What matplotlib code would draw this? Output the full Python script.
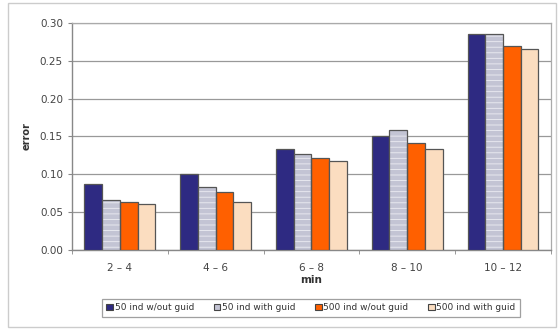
import matplotlib.pyplot as plt
from matplotlib.patches import Rectangle, Patch
import numpy as np

# Data
categories = ['2 – 4', '4 – 6', '6 – 8', '8 – 10', '10 – 12']
series_names = ['50 ind w/out guid', '50 ind with guid', '500 ind w/out guid', '500 ind with guid']
ind50_wout = [0.087, 0.100, 0.133, 0.151, 0.285]
ind50_with = [0.066, 0.083, 0.127, 0.159, 0.285]
ind500_wout = [0.063, 0.076, 0.122, 0.142, 0.269]
ind500_with = [0.061, 0.064, 0.118, 0.134, 0.266]

values = [ind50_wout, ind50_with, ind500_wout, ind500_with]
colors = ['#2E2A82', '#C3C4D4', '#FF6000', '#FBDDC0']

plt.rcParams['hatch.linewidth'] = 0.6

fig = plt.figure(figsize=(5.6, 3.31), dpi=100)
ax = fig.add_axes([0.1286, 0.2447, 0.855, 0.686])

x = np.arange(len(categories))
w = 0.185
for i, vals in enumerate(values):
    pos = x + (i - 1.5) * w
    if i == 1:
        # striped grey bar: light hatch first, then the outline
        ax.bar(pos, vals, w, color=colors[i], hatch='---', edgecolor='#EDEDF3',
               linewidth=0, zorder=3)
        ax.bar(pos, vals, w, color='none', edgecolor='#555555', linewidth=0.9, zorder=4)
    else:
        ax.bar(pos, vals, w, color=colors[i], edgecolor='#555555', linewidth=0.9, zorder=3)

ax.set_xlim(-0.5, 4.5)
ax.set_ylim(0, 0.30)
ax.set_yticks(np.arange(0, 0.301, 0.05))
ax.set_yticklabels([f'{v:.2f}' for v in np.arange(0, 0.301, 0.05)])
ax.yaxis.grid(True, color='#999999', linewidth=0.9, zorder=0)
ax.set_axisbelow(True)

ax.set_xticks(x)
ax.set_xticklabels(categories)
ax.set_xticks(np.arange(-0.5, 4.6, 1), minor=True)
ax.tick_params(axis='x', which='major', length=0, labelsize=7.5, colors='#444444', pad=9)
ax.tick_params(axis='x', which='minor', length=3, color='#888888', direction='out')
ax.tick_params(axis='y', length=3, labelsize=7.5, colors='#444444', color='#888888')

for s in ['left', 'bottom']:
    ax.spines[s].set_color('#888888')
    ax.spines[s].set_linewidth(1.0)
for s in ['top', 'right']:
    ax.spines[s].set_color('#aaaaaa')
    ax.spines[s].set_linewidth(0.9)

ax.set_xlabel('min', fontsize=7.5, fontweight='bold', color='#333333', labelpad=2)
ax.set_ylabel('error', fontsize=7, fontweight='bold', color='#333333', labelpad=6)

handles = [Patch(facecolor=c, edgecolor='#444444', linewidth=0.8) for c in colors]
leg = fig.legend(handles, series_names, loc='center', bbox_to_anchor=(0.5555, 0.0695),
                 ncol=4, fontsize=6.5, frameon=True, fancybox=False, edgecolor='#888888',
                 handlelength=0.7, handleheight=0.7, handletextpad=0.2,
                 columnspacing=2.2, borderpad=0.5, labelcolor='#333333')
leg.get_frame().set_linewidth(0.9)

# light outer border
fig.patches.append(Rectangle((0.014, 0.012), 0.978, 0.98, transform=fig.transFigure,
                             fill=False, edgecolor='#cccccc', linewidth=1.0))

fig.savefig('out.png', dpi=100)
